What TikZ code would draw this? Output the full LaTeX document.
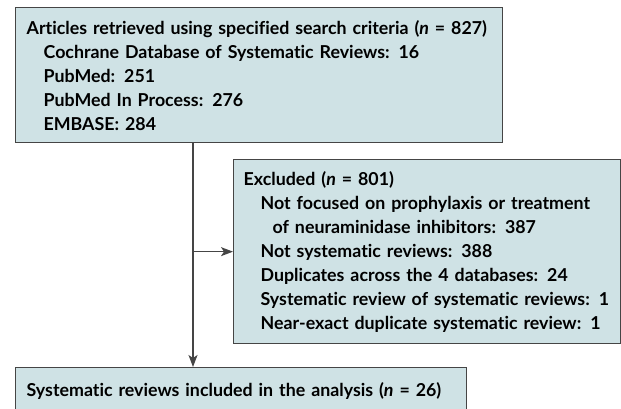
\documentclass[tikz,border=0pt]{standalone}
\usepackage{fontspec}
\setmainfont{Lato}[Ligatures=NoCommon]
\usetikzlibrary{arrows.meta}
\definecolor{boxfill}{HTML}{CFE2E5}
\definecolor{boxline}{HTML}{454545}
\tikzset{
    flowbox/.style={draw=boxline, line width=1.3pt, fill=boxfill, anchor=north west,
        align=left, inner ysep=0pt, font=\fontsize{17.8}{24}\selectfont\bfseries},
    flowarrow/.style={draw=boxline, line width=1.2pt, -{Stealth[length=12pt,width=9pt,inset=3pt]}}
}
\newcommand{\ind}{\hspace*{17pt}}
\begin{document}
\begin{tikzpicture}[x=1pt, y=-1pt]
    \useasboundingbox (0,0) rectangle (621,408);
    \node[flowbox, minimum width=487pt, minimum height=135pt, text width=465pt, inner xsep=11pt] (search) at (15,7)
        {Articles retrieved using specified search criteria (\textit{n} = 827)\\
         \ind Cochrane Database of Systematic Reviews: 16\\
         \ind PubMed: 251\\
         \ind PubMed In Process: 276\\
         \ind EMBASE: 284};
    \node[flowbox, minimum width=387pt, minimum height=184pt, text width=367pt, inner xsep=10pt] (excl) at (233,159)
        {Excluded (\textit{n} = 801)\\
         \ind Not focused on prophylaxis or treatment\\
         \ind\hspace*{12pt}of neuraminidase inhibitors: 387\\
         \ind Not systematic reviews: 388\\
         \ind Duplicates across the 4 databases: 24\\
         \ind Systematic review of systematic reviews: 1\\
         \ind Near-exact duplicate systematic review: 1};
    \node[flowbox, minimum width=451pt, minimum height=46pt, text width=429pt, inner xsep=11pt] (incl) at (15,367)
        {Systematic reviews included in the analysis (\textit{n} = 26)};
    \coordinate (split) at (193,0);
    \draw[flowarrow] (search.south -| split) -- (incl.north -| split);
    \draw[flowarrow] (excl.west -| split) -- (excl.west);
\end{tikzpicture}
\end{document}
